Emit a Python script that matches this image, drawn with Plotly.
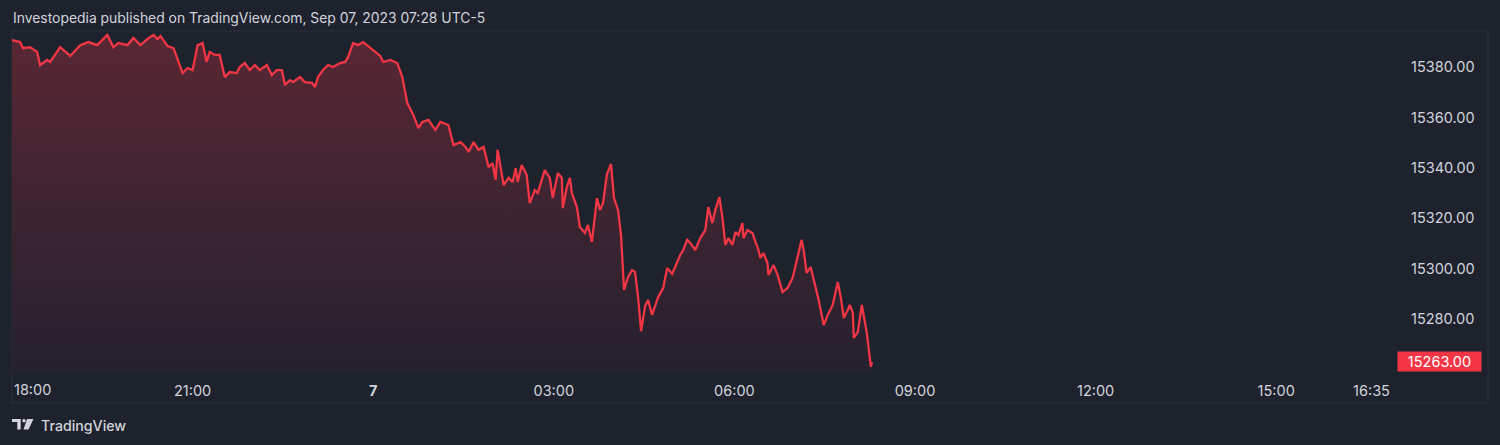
import plotly.graph_objects as go
import pandas as pd

# ---- data ----
# minutes after 2023-09-06 18:00 (chart time) and the price at that minute
minutes = [
    0, 8, 11, 18, 25, 28, 35, 38, 48, 58,
    68, 76, 85, 95, 101, 106, 115, 121, 128, 136,
    141, 145, 148, 155, 161, 166, 170, 175, 180, 185,
    190, 194, 197, 202, 207, 212, 217, 224, 227, 232,
    237, 242, 247, 254, 259, 264, 269, 272, 277, 280,
    287, 292, 299, 302, 305, 310, 315, 320, 327, 332,
    335, 340, 345, 350, 357, 362, 367, 370, 377, 384,
    389, 394, 400, 405, 409, 415, 422, 427, 435, 440,
    447, 452, 455, 460, 465, 470, 475, 479, 482, 484,
    487, 490, 495, 499, 502, 504, 508, 513, 516, 521,
    524, 531, 536, 539, 544, 548, 549, 553, 556, 558,
    563, 566, 571, 574, 578, 583, 586, 589, 593, 597,
    600, 604, 607, 610, 614, 618, 621, 624, 627, 631,
    634, 638, 641, 644, 649, 653, 658, 661, 666, 669,
    673, 676, 681, 686, 691, 694, 698, 701, 705, 708,
    711, 714, 718, 721, 724, 728, 729, 733, 738, 741,
    744, 746, 749, 753, 754, 759, 763, 768, 773, 778,
    783, 787, 789, 792, 796, 799, 804, 809, 813, 818,
    823, 826, 829, 833, 835, 838, 839, 843, 847, 852,
    856, 857,
]
prices = [
    15390.7, 15389.9, 15387.5, 15387.9, 15386.0, 15380.8, 15382.8, 15382.0, 15387.9, 15384.4,
    15388.7, 15389.9, 15388.7, 15392.7, 15387.9, 15389.5, 15388.7, 15391.5, 15388.7, 15391.5,
    15392.7, 15391.1, 15392.3, 15388.3, 15387.5, 15382.0, 15377.6, 15379.6, 15378.8, 15388.7,
    15389.5, 15382.0, 15386.0, 15384.8, 15384.8, 15376.0, 15378.0, 15377.6, 15380.0, 15381.6,
    15378.8, 15380.8, 15378.8, 15380.8, 15376.8, 15378.8, 15378.8, 15372.9, 15374.8, 15374.0,
    15376.0, 15374.0, 15373.7, 15372.1, 15376.0, 15378.8, 15380.8, 15380.0, 15381.6, 15382.0,
    15384.0, 15389.5, 15388.7, 15389.9, 15387.5, 15386.0, 15384.4, 15382.0, 15382.8, 15381.6,
    15376.0, 15365.7, 15361.0, 15355.8, 15358.2, 15359.0, 15355.0, 15358.2, 15357.0, 15349.0,
    15350.2, 15348.3, 15346.3, 15350.2, 15347.1, 15348.3, 15340.3, 15341.9, 15335.2, 15347.1,
    15340.3, 15333.2, 15336.0, 15334.4, 15339.9, 15334.4, 15341.1, 15337.1, 15326.0, 15331.2,
    15330.0, 15339.1, 15336.0, 15328.0, 15337.9, 15336.0, 15324.0, 15332.4, 15336.0, 15330.0,
    15324.4, 15316.5, 15314.1, 15317.3, 15310.6, 15328.0, 15323.3, 15326.0, 15337.5, 15341.5,
    15328.0, 15323.3, 15313.3, 15291.5, 15296.7, 15299.4, 15298.7, 15288.7, 15275.2, 15285.2,
    15287.5, 15281.6, 15285.2, 15288.7, 15292.3, 15300.2, 15297.9, 15301.0, 15305.4, 15307.4,
    15311.4, 15310.2, 15307.4, 15312.1, 15315.3, 15324.4, 15318.1, 15323.3, 15328.4, 15320.5,
    15309.4, 15312.1, 15309.4, 15314.5, 15313.3, 15318.1, 15312.1, 15315.3, 15314.1, 15310.6,
    15307.4, 15304.2, 15306.2, 15302.2, 15297.5, 15301.4, 15297.5, 15290.7, 15292.3, 15296.3,
    15304.6, 15311.4, 15307.4, 15298.3, 15300.6, 15295.5, 15287.5, 15277.6, 15281.6, 15285.6,
    15294.7, 15288.7, 15280.4, 15283.6, 15285.6, 15282.4, 15272.5, 15274.8, 15285.6, 15274.4,
    15261.0, 15263.0,
]

y_ticks = [15280, 15300, 15320, 15340, 15360, 15380]
x_tick_times = ["2023-09-06 21:00", "2023-09-07 00:00", "2023-09-07 03:00", "2023-09-07 06:00",
                "2023-09-07 09:00", "2023-09-07 12:00", "2023-09-07 15:00", "2023-09-07 16:35"]
x_tick_labels = ["21:00", "<b>7</b>", "03:00", "06:00", "09:00", "12:00", "15:00", "16:35"]
first_label_time = "2023-09-06 18:00"
first_label = "18:00"
last_price = 15263.00
title_text = "Investopedia published on TradingView.com, Sep 07, 2023 07:28 UTC-5"

start = pd.Timestamp("2023-09-06 18:00")
times = [start + pd.Timedelta(minutes=m) for m in minutes]

# ---- style ----
# the page body adds an 8px offset, so the figure is drawn 8px smaller/shifted
OFF = 8
W, H = 1500 - OFF, 445 - OFF
PANE_L, PANE_R, PANE_T, PANE_B = 12, 1395, 31, 372   # screen pixels
L, R, T, B = PANE_L - OFF, (W + OFF) - PANE_R, PANE_T - OFF, (H + OFF) - PANE_B
PW, PH = PANE_R - PANE_L, PANE_B - PANE_T
BG = "#1e222d"
RED = "#f23645"
TXT = "#d1d4dc"
FONT = "Inter, Roboto, sans-serif"

def px(x):
    return (x - PANE_L) / PW

def py(y):
    return (PANE_B - y) / PH

y_lo, y_hi = 15258.97, 15394.3
x_end = start + pd.Timedelta(minutes=1378.4)

fig = go.Figure()
fig.add_trace(go.Scatter(
    x=times, y=prices, mode="lines",
    line=dict(color=RED, width=2.3),
    fill="tozeroy",
    fillgradient=dict(type="vertical", start=y_lo, stop=max(prices),
                      colorscale=[[0, "rgb(37,33,46)"], [1, "rgb(89,39,52)"]]),
    hoverinfo="skip", showlegend=False,
))

fig.update_layout(
    width=W, height=H,
    margin=dict(l=L, r=R, t=T, b=B),
    paper_bgcolor=BG, plot_bgcolor=BG,
    font=dict(family=FONT, color=TXT, size=14),
    xaxis=dict(type="date", range=[start, x_end], showgrid=False, zeroline=False,
               showline=False, tickvals=x_tick_times, ticktext=x_tick_labels,
               tickfont=dict(color=TXT, size=14.5, family=FONT), ticks="",
               ticklabelstandoff=8, fixedrange=True),
    yaxis=dict(side="right", range=[y_lo, y_hi], showgrid=False, zeroline=False,
               showline=False, tickvals=y_ticks, tickformat=".2f", ticks="",
               tickfont=dict(color=TXT, size=14.5, family=FONT),
               ticklabelstandoff=15, fixedrange=True),
)

# frame
fig.add_shape(type="rect", xref="paper", yref="paper",
              x0=px(12), x1=px(1488), y0=py(403), y1=py(31),
              line=dict(color="#2a2e39", width=1), fillcolor="rgba(0,0,0,0)", layer="below")

annotations = [
    dict(text=title_text, xref="paper", yref="paper", x=px(11), y=py(18),
         xanchor="left", yanchor="middle", showarrow=False,
         font=dict(size=13.9, color=TXT, family=FONT)),
    dict(text=first_label, xref="x", yref="paper", x=first_label_time, y=py(389),
         xanchor="left", yanchor="middle", showarrow=False,
         font=dict(size=14.5, color=TXT, family=FONT)),
    dict(text=f"{last_price:.2f}", xref="paper", yref="y", x=px(1397), y=last_price,
         xanchor="left", yanchor="middle", showarrow=False, bgcolor=RED,
         width=81, height=17, borderpad=1, align="center",
         font=dict(size=14.5, color="#ffffff", family=FONT)),
    dict(text="TradingView", xref="paper", yref="paper", x=px(39), y=py(425),
         xanchor="left", yanchor="middle", showarrow=False,
         font=dict(size=14.2, color=TXT, family=FONT, weight=500)),
]
fig.update_layout(annotations=annotations)

# TradingView logo glyph
logo_color = "#d1d4dc"
def pp(x, y):
    return f"{px(x)},{py(y)}"
fig.add_shape(type="path", xref="paper", yref="paper", layer="above",
              path=f"M {pp(12,419)} L {pp(20.7,419)} L {pp(20.7,429.5)} L {pp(17.3,429.5)} L {pp(17.3,422)} L {pp(12,422)} Z",
              fillcolor=logo_color, line=dict(width=0))
fig.add_shape(type="circle", xref="paper", yref="paper", layer="above",
              x0=px(22.3), x1=px(25.7), y0=py(422.4), y1=py(419),
              fillcolor=logo_color, line=dict(width=0))
fig.add_shape(type="path", xref="paper", yref="paper", layer="above",
              path=f"M {pp(27,419)} L {pp(33.5,419)} L {pp(28.5,429.5)} L {pp(23.5,429.5)} Z",
              fillcolor=logo_color, line=dict(width=0))

fig.write_html("out.html", post_script="document.body.style.background='#1e222d';")
